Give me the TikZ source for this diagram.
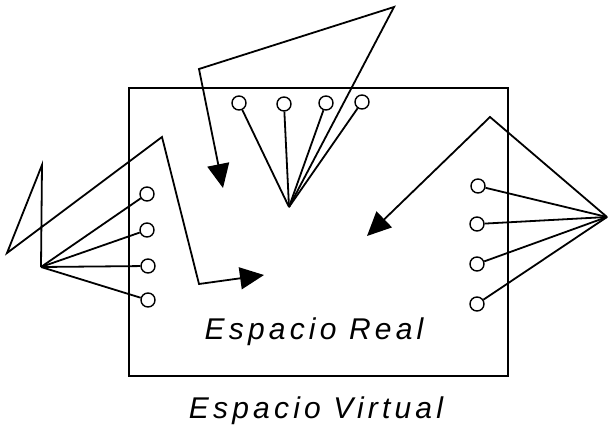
\documentclass[tikz,border=0pt]{standalone}
\usepackage{fontspec}
\setmainfont{Liberation Sans}
\usetikzlibrary{arrows.meta}
\begin{document}
\begin{tikzpicture}[x=1pt,y=-1pt,
  port/.style={circle,draw,line width=1.4pt,minimum size=14pt,inner sep=0pt},
  wire/.style={line width=1.8pt, line join=miter},
  pointer/.style={wire,-{Triangle[length=24pt,width=22pt]}},
  lbl/.style={font=\fontsize{30}{34}\selectfont\itshape\addfontfeature{LetterSpace=14}}]
\useasboundingbox (0,0) rectangle (608,433);
\node[draw, line width=1.6pt, minimum width=379pt, minimum height=288pt, inner sep=0pt, anchor=north west] (real) at (128,87) {};
% top circles
\node[port] (t1) at (239,103) {};
\node[port] (t2) at (284,104) {};
\node[port] (t3) at (326,103) {};
\node[port] (t4) at (362,102) {};
% left circles
\node[port] (l1) at (147,194) {};
\node[port] (l2) at (147,230) {};
\node[port] (l3) at (148,266) {};
\node[port] (l4) at (148,300) {};
% right circles
\node[port] (r1) at (478,186) {};
\node[port] (r2) at (477,224) {};
\node[port] (r3) at (477,264) {};
\node[port] (r4) at (477,304) {};
% fan points and bends
\coordinate (ft) at (289,207);
\coordinate (tA) at (394,7);
\coordinate (tB) at (199,69);
\coordinate (tTip) at (223,188);
\coordinate (fl) at (41,267);
\coordinate (lA) at (42,165);
\coordinate (lB) at (7,253);
\coordinate (lC) at (162,137);
\coordinate (lD) at (199,284);
\coordinate (lTip) at (264,275);
\coordinate (fr) at (607,217);
\coordinate (rA) at (490,117);
\coordinate (rTip) at (367,236);
% top group
\foreach \c in {t1,t2,t3,t4} \draw[wire] (ft) -- (\c);
\draw[pointer] (ft) -- (tA) -- (tB) -- (tTip);
% left group
\foreach \c in {l1,l2,l3,l4} \draw[wire] (fl) -- (\c);
\draw[pointer] (fl) -- (lA) -- (lB) -- (lC) -- (lD) -- (lTip);
% right group
\foreach \c in {r1,r2,r3,r4} \draw[wire] (fr) -- (\c);
\draw[pointer] (fr) -- (rA) -- (rTip);
% labels
\node[lbl] (lreal) at (314,332) {Espacio Real};
\node[lbl] (lvirt) at (316,411) {Espacio Virtual};
\end{tikzpicture}
\end{document}
